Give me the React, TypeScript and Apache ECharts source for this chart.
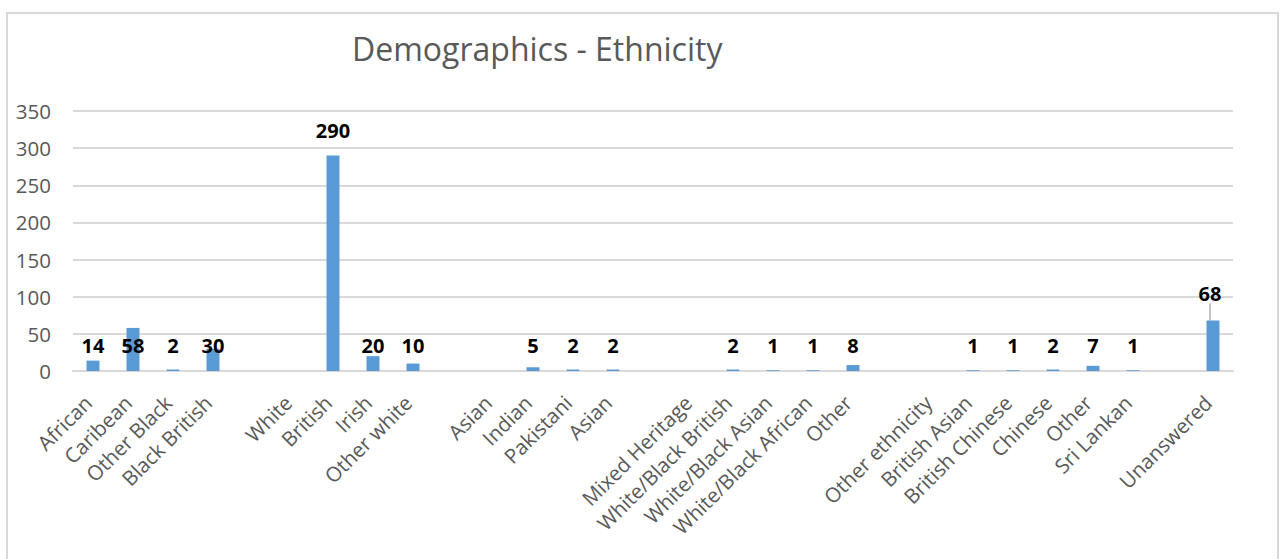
import React, { useEffect, useRef } from "react";
import * as echarts from "echarts";

// Ethnicity categories; empty strings are spacer slots between groups
const categories = [
  "African", "Caribean", "Other Black", "Black British", "",
  "White", "British", "Irish", "Other white", "",
  "Asian", "Indian", "Pakistani", "Asian", "",
  "Mixed Heritage", "White/Black British", "White/Black Asian", "White/Black African", "Other", "",
  "Other ethnicity", "British Asian", "British Chinese", "Chinese", "Other", "Sri Lankan", "",
  "Unanswered",
];

const counts: (number | null)[] = [
  14, 58, 2, 30, null,
  null, 290, 20, 10, null,
  null, 5, 2, 2, null,
  null, 2, 1, 1, 8, null,
  null, 1, 1, 2, 7, 1, null,
  68,
];

const yTicks = [0, 50, 100, 150, 200, 250, 300, 350];

const FONT = "'Open Sans', 'Noto Sans', sans-serif";

export default function App() {
  const ref = useRef<HTMLDivElement>(null);

  useEffect(() => {
    if (!ref.current) return;
    const chart = echarts.init(ref.current, null, { renderer: "svg" });

    const data = counts.map((v) => {
      if (v === null) return { value: null };
      if (v === 290) {
        return { value: v, label: { position: "top", distance: 15 } };
      }
      if (v === 68) {
        return {
          value: v,
          label: { position: "top", distance: 12 },
          labelLine: { show: true, lineStyle: { color: "#8c8c8c", width: 1 } },
        };
      }
      return { value: v };
    });

    chart.setOption({
      animation: false,
      title: {
        text: "Demographics - Ethnicity",
        left: 347,
        top: 27,
        textStyle: {
          fontFamily: FONT,
          fontSize: 32,
          fontWeight: "normal",
          color: "#595959",
        },
      },
      graphic: [
        {
          type: "rect",
          shape: { x: 7, y: 13, width: 1271, height: 560 },
          style: { fill: "none", stroke: "#d9d9d9", lineWidth: 2 },
          silent: true,
        },
      ],
      grid: { left: 73, right: 48, top: 111, bottom: 188 },
      xAxis: {
        type: "category",
        data: categories,
        axisTick: { show: false },
        axisLine: { lineStyle: { color: "#d9d9d9", width: 2 } },
        axisLabel: {
          interval: 0,
          rotate: 45,
          margin: 23,
          padding: [0, 7, 0, 0],
          fontFamily: FONT,
          fontSize: 20.5,
          color: "#595959",
        },
      },
      yAxis: {
        type: "value",
        min: yTicks[0],
        max: yTicks[yTicks.length - 1],
        interval: 50,
        axisLine: { show: false },
        axisTick: { show: false },
        splitLine: { lineStyle: { color: "#d9d9d9", width: 2 } },
        axisLabel: {
          margin: 22,
          fontFamily: FONT,
          fontSize: 20.5,
          color: "#595959",
        },
      },
      series: [
        {
          type: "bar",
          data,
          barWidth: 13,
          itemStyle: { color: "#5b9bd5" },
          label: {
            show: true,
            position: "insideBottom",
            distance: 16,
            fontFamily: FONT,
            fontSize: 20,
            fontWeight: "bold",
            color: "#000000",
          },
          labelLayout: (params: any) => {
            if (counts[params.dataIndex] === 68) {
              return { dy: -5, dx: -3 };
            }
            return {};
          },
        },
      ],
    });

    return () => chart.dispose();
  }, []);

  return (
    <div
      ref={ref}
      style={{ position: "fixed", left: 0, top: 0, width: 1281, height: 559, background: "#fff" }}
    />
  );
}
